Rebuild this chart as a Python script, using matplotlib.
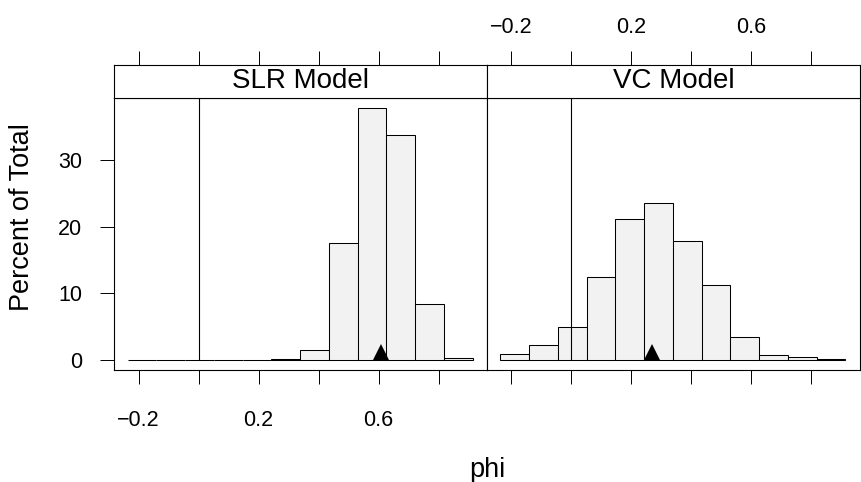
import numpy as np
import matplotlib.pyplot as plt

plt.rcParams['font.family'] = ['Liberation Sans', 'DejaVu Sans']

# histogram breaks (shared by both panels) and percent of total per bin
bin_lo = -0.2366
bin_hi = 0.913
n_bins = 12
slr_pct = [0, 0, 0, 0, 0.03, 0.15, 1.5, 17.65, 37.85, 33.9, 8.37, 0.35]
vc_pct = [0.85, 2.26, 4.96, 12.53, 21.15, 23.56, 17.94, 11.28, 3.51, 0.75, 0.5, 0.1]

panels = ["SLR Model", "VC Model"]
marker_x = [0.609, 0.269]
marker_y = 1.25

x_ticks = [-0.2, 0.0, 0.2, 0.4, 0.6, 0.8]
x_labels = ["\u22120.2", "", "0.2", "", "0.6", ""]
y_ticks = [0, 10, 20, 30]

W, H = 862, 482
fig = plt.figure(figsize=(W / 100, H / 100), dpi=100)

breaks = np.linspace(bin_lo, bin_hi, n_bins + 1)
widths = np.diff(breaks)

left_px = [114.3, 487.0]
panel_w = 373.0
top_px, bot_px, strip_top_px = 98.3, 369.5, 64.5
xlim = (-0.281, 0.962)
ylim = (-1.43, 39.35)

tick_kw = dict(length=10, width=0.7, color="black", labelsize=15.5)

for i, (name, pct) in enumerate(zip(panels, [slr_pct, vc_pct])):
    l = left_px[i] / W
    w = panel_w / W
    ax = fig.add_axes([l, 1 - bot_px / H, w, (bot_px - top_px) / H])
    ax.bar(breaks[:-1], pct, width=widths, align="edge", color="#F2F2F2",
           edgecolor="black", linewidth=0.75, zorder=2)
    ax.vlines(0, 0, ylim[1], color="black", linewidth=0.8, zorder=3)
    ax.plot(marker_x[i], marker_y, marker="^", markersize=12, color="black",
            markeredgewidth=0, linestyle="none", zorder=4)
    ax.set_xlim(*xlim)
    ax.set_ylim(*ylim)
    ax.set_xticks(x_ticks)
    if i == 0:
        ax.set_xticklabels(x_labels)
    else:
        ax.set_xticklabels([""] * len(x_ticks))
    ax.set_yticks(y_ticks)
    ax.tick_params(axis="x", direction="out", pad=19, **tick_kw)
    if i == 0:
        ax.tick_params(axis="y", direction="out", left=True, right=False,
                       pad=13, **tick_kw)
    else:
        ax.tick_params(axis="y", direction="out", left=False, right=True,
                       labelleft=False, labelright=False, **tick_kw)
    for s in ax.spines.values():
        s.set_linewidth(0.8)

    # strip with panel name; top axis ticks live on it
    sx = fig.add_axes([l, 1 - top_px / H, w, (top_px - strip_top_px) / H])
    sx.set_xlim(*xlim)
    sx.set_ylim(0, 1)
    sx.set_yticks([])
    sx.xaxis.tick_top()
    sx.set_xticks(x_ticks)
    if i == 1:
        sx.set_xticklabels(x_labels)
    else:
        sx.set_xticklabels([""] * len(x_ticks))
    sx.tick_params(axis="x", direction="out", pad=9, **tick_kw)
    sx.text(0.5, 0.5, name, transform=sx.transAxes, ha="center",
            va="center", fontsize=20)
    for s in sx.spines.values():
        s.set_linewidth(0.8)

fig.text(487 / W, 5 / H, "phi", ha="center", va="baseline", fontsize=19.5)
fig.text(22 / W, 1 - 217.5 / H, "Percent of Total", rotation=90,
         ha="center", va="center", fontsize=19.5)

fig.savefig("out.png", dpi=100)
